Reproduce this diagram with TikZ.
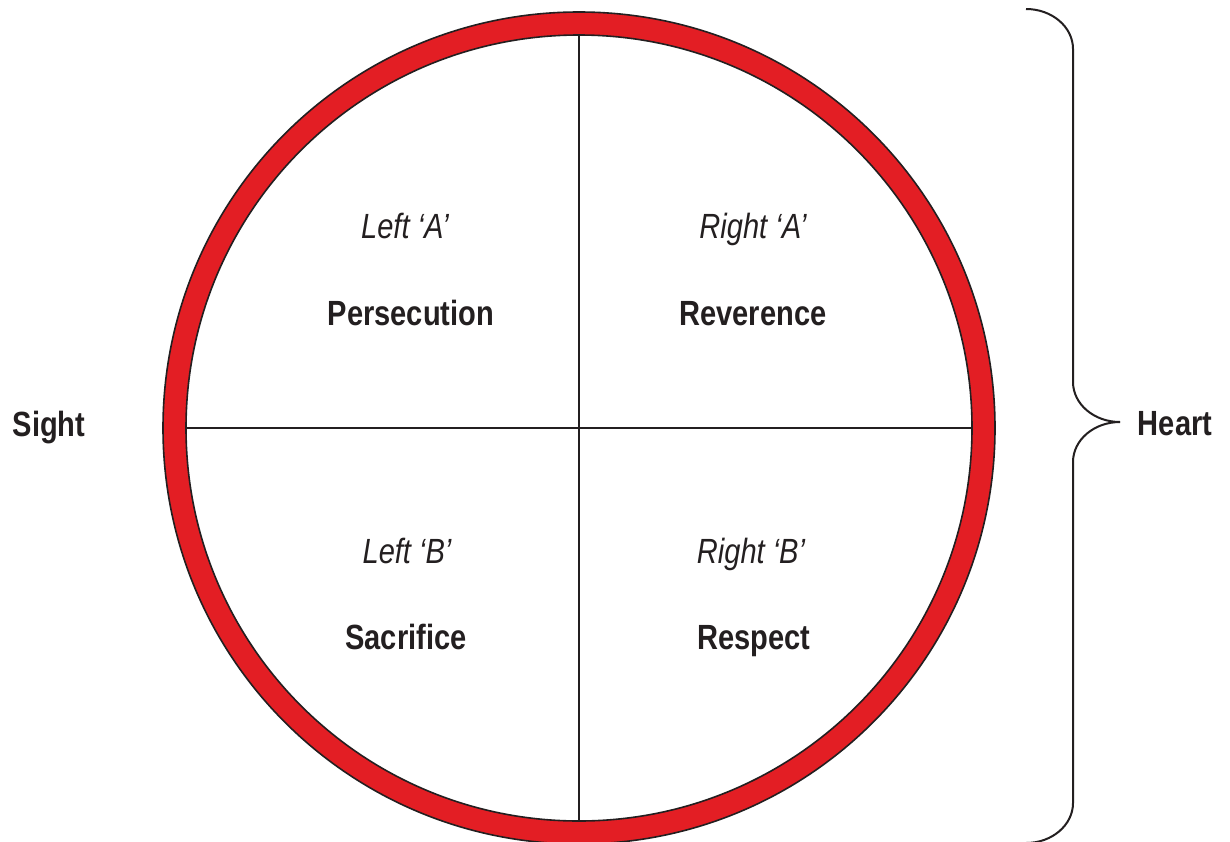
\documentclass[tikz,border=0pt]{standalone}
\usepackage{fontspec}
\setmainfont{Liberation Sans}[FakeStretch=0.83]
\definecolor{ringred}{HTML}{E31E24}
\definecolor{ink}{HTML}{231F20}
\begin{document}
\begin{tikzpicture}[x=1pt,y=-1pt,
  lab/.style={anchor=base,inner sep=0pt,text=ink,font=\fontsize{35}{40}\selectfont\itshape},
  word/.style={anchor=base,inner sep=0pt,text=ink,font=\fontsize{35}{40}\selectfont\bfseries},
  rule/.style={draw=ink,line width=1.6pt},
  bracepath/.style={draw=ink,line width=2pt}]
\useasboundingbox (0,0) rectangle (1230,841);
\clip (0,0) rectangle (1230,841);
% ring
\coordinate (c) at (579,428);
\fill[ringred,even odd rule] (c) circle[radius=416] (c) circle[radius=393];
\draw[rule] (c) circle[radius=416];
\draw[rule] (c) circle[radius=393];
\coordinate (top) at (579,35);
\coordinate (bot) at (579,821);
\coordinate (lft) at (186,428);
\coordinate (rgt) at (972,428);
\draw[rule] (top) -- (bot);
\draw[rule] (lft) -- (rgt);
% labels
\node[lab] (la) at (405,238) {Left ‘A’};
\node[word] (pe) at (411,325) {Persecution};
\node[lab] (ra) at (753,238) {Right ‘A’};
\node[word] (re) at (753,325) {Reverence};
\node[lab] (lb) at (407,563) {Left ‘B’};
\node[word] (sa) at (406,649) {Sacrifice};
\node[lab] (rb) at (751,563) {Right ‘B’};
\node[word] (rs) at (754,649) {Respect};
\node[word] (si) at (49,436) {Sight};
\node[word] (he) at (1175,435) {Heart};
% brace
\coordinate (b1) at (1026,9);
\coordinate (tip) at (1120,422);
\coordinate (b2) at (1026,843);
\draw[bracepath] (b1) arc[start angle=90,end angle=0,x radius=47,y radius=-40]
  -- (1073,382) arc[start angle=180,end angle=270,x radius=47,y radius=-40] coordinate (tip);
\draw[bracepath] (tip) arc[start angle=90,end angle=180,x radius=47,y radius=-40]
  -- (1073,803) arc[start angle=0,end angle=-90,x radius=47,y radius=-40];
\end{tikzpicture}
\end{document}
